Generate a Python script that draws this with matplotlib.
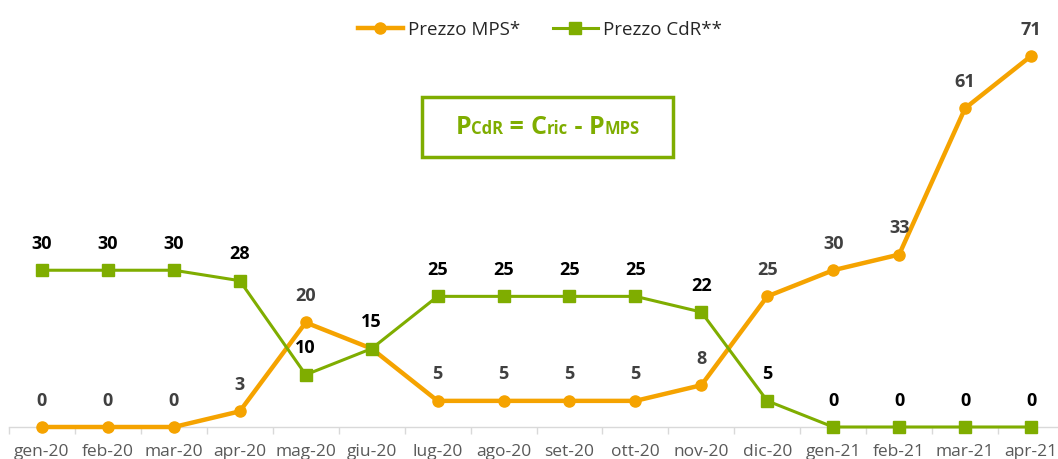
import matplotlib
matplotlib.use("Agg")
import matplotlib.pyplot as plt
from matplotlib.patches import Rectangle
from matplotlib.offsetbox import TextArea, HPacker, AnchoredOffsetbox

plt.rcParams['font.family'] = ['Open Sans', 'DejaVu Sans']

months = ["gen-20", "feb-20", "mar-20", "apr-20", "mag-20", "giu-20", "lug-20", "ago-20",
          "set-20", "ott-20", "nov-20", "dic-20", "gen-21", "feb-21", "mar-21", "apr-21"]
prezzo_mps = [0, 0, 0, 3, 20, 15, 5, 5, 5, 5, 8, 25, 30, 33, 61, 71]
prezzo_cdr = [30, 30, 30, 28, 10, 15, 25, 25, 25, 25, 22, 5, 0, 0, 0, 0]

ORANGE = "#F5A300"
GREEN = "#7FAD00"

W, H = 1058, 459
fig = plt.figure(figsize=(W / 100, H / 100), dpi=100)
fig.patch.set_facecolor("white")

x0_px, x1_px = 9, 1064
y0_px, ytop_px = 427, 56
ax = fig.add_axes([x0_px / W, 1 - y0_px / H, (x1_px - x0_px) / W, (y0_px - ytop_px) / H])
ax.set_xlim(-0.5, 15.5)
ax.set_ylim(0, 71)
ax.patch.set_alpha(0)

x = list(range(len(months)))
l1, = ax.plot(x, prezzo_mps, color=ORANGE, lw=3.2, marker="o", ms=8,
              label="Prezzo MPS*", clip_on=False, zorder=3, solid_joinstyle="round")
l2, = ax.plot(x, prezzo_cdr, color=GREEN, lw=2.2, marker="s", ms=9,
              label="Prezzo CdR**", clip_on=False, zorder=4)

for i, v in enumerate(prezzo_mps):
    if v == prezzo_cdr[i]:
        continue
    ax.annotate(str(v), (i, v), xytext=(0, 19), textcoords="offset points",
                ha="center", va="center", fontsize=13, fontweight="bold",
                color="#404040", zorder=5, annotation_clip=False)
for i, v in enumerate(prezzo_cdr):
    ax.annotate(str(v), (i, v), xytext=(0, 19), textcoords="offset points",
                ha="center", va="center", fontsize=13, fontweight="bold",
                color="black", zorder=5, annotation_clip=False)

for s in ["top", "right", "left"]:
    ax.spines[s].set_visible(False)
ax.spines["bottom"].set_color("#D9D9D9")
ax.spines["bottom"].set_linewidth(1.0)
ax.set_yticks([])
ax.set_xticks(x)
ax.set_xticklabels(months, fontsize=12.5, color="#595959")
ax.tick_params(axis="x", which="major", length=0, pad=12)
ax.set_xticks([i + 0.5 for i in range(-1, 16)], minor=True)
ax.tick_params(axis="x", which="minor", length=5, color="#D9D9D9", width=1)

fig.legend(handles=[l1, l2], loc="center", bbox_to_anchor=(540 / W, 1 - 30 / H),
           ncol=2, frameon=False, fontsize=13.5, handlelength=2.4, columnspacing=1.7,
           handletextpad=0.3, labelcolor="#262626")

bx0, by0, bx1, by1 = 422, 97, 673, 157
rect = Rectangle((bx0 / W, 1 - by1 / H), (bx1 - bx0) / W, (by1 - by0) / H,
                 transform=fig.transFigure, fill=False, edgecolor=GREEN, lw=2.5)
fig.add_artist(rect)

big = dict(fontsize=18, fontweight="bold", color=GREEN)
small = dict(fontsize=12, fontweight="bold", color=GREEN)
parts = [("P", big), ("CdR", small), (" = ", big), ("C", big), ("ric", small),
         (" - ", big), ("P", big), ("MPS", small)]
areas = [TextArea(t, textprops=p) for t, p in parts]
pack = HPacker(children=areas, align="baseline", pad=0, sep=0)
ab = AnchoredOffsetbox(loc="center", child=pack, frameon=False,
                       bbox_to_anchor=((bx0 + bx1) / 2 / W, 1 - (by0 + by1) / 2 / H),
                       bbox_transform=fig.transFigure, pad=0, borderpad=0)
fig.add_artist(ab)

fig.savefig("out.png", dpi=100, facecolor="white")
